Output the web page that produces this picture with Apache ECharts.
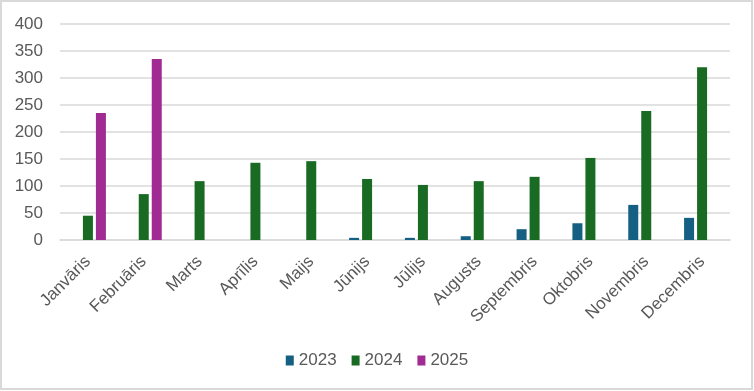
<!DOCTYPE html>
<html>
<head>
<meta charset="utf-8">
<script src="https://cdn.jsdelivr.net/npm/echarts@6/dist/echarts.min.js"></script>
<style>
html,body{margin:0;padding:0;background:#fff;}
#chart{width:754px;height:391px;}
</style>
</head>
<body>
<div id="chart"></div>
<script>
const categories = ['Janvāris','Februāris','Marts','Aprīlis','Maijs','Jūnijs','Jūlijs','Augusts','Septembris','Oktobris','Novembris','Decembris'];
const seriesNames = ['2023','2024','2025'];
const values2023 = [null, null, null, null, null, 4, 4, 7, 20, 31, 65, 41];
const values2024 = [45, 85, 109, 143, 146, 113, 102, 109, 117, 152, 239, 320];
const values2025 = [235, 335, null, null, null, null, null, null, null, null, null, null];
const yTicks = [0, 400, 50];

const colors = ['#156082', '#196B24', '#A02B93'];
const font = '"Liberation Sans", Arial, sans-serif';

const chart = echarts.init(document.getElementById('chart'), null, {renderer: 'canvas'});
const dataList = [values2023, values2024, values2025];
chart.setOption({
  animation: false,
  color: colors,
  graphic: [{
    type: 'rect', silent: true,
    shape: {x: 1, y: 1, width: 751, height: 388},
    style: {fill: 'none', stroke: '#d9d9d9', lineWidth: 2}
  }],
  grid: {left: 60, right: 24, top: 24, bottom: 151, containLabel: false},
  legend: {
    data: seriesNames,
    bottom: 17,
    left: 'center',
    itemWidth: 8, itemHeight: 10, itemGap: 15,
    icon: 'rect',
    textStyle: {fontFamily: font, fontSize: 17, color: '#595959'}
  },
  xAxis: {
    type: 'category',
    data: categories,
    axisLine: {show: true, lineStyle: {color: '#d9d9d9', width: 1.5}},
    axisTick: {show: false},
    axisLabel: {rotate: 45, interval: 0, fontFamily: font, fontSize: 17, color: '#595959', margin: 19}
  },
  yAxis: {
    type: 'value',
    min: yTicks[0], max: yTicks[1], interval: yTicks[2],
    axisLine: {show: false},
    axisTick: {show: false},
    axisLabel: {fontFamily: font, fontSize: 17, color: '#595959', margin: 17},
    splitLine: {lineStyle: {color: '#d9d9d9', width: 1.5}}
  },
  series: seriesNames.map((n, i) => ({
    name: n,
    type: 'bar',
    data: dataList[i],
    barWidth: 10,
    barGap: '30%',
    itemStyle: {color: colors[i]}
  }))
});
</script>
</body>
</html>
